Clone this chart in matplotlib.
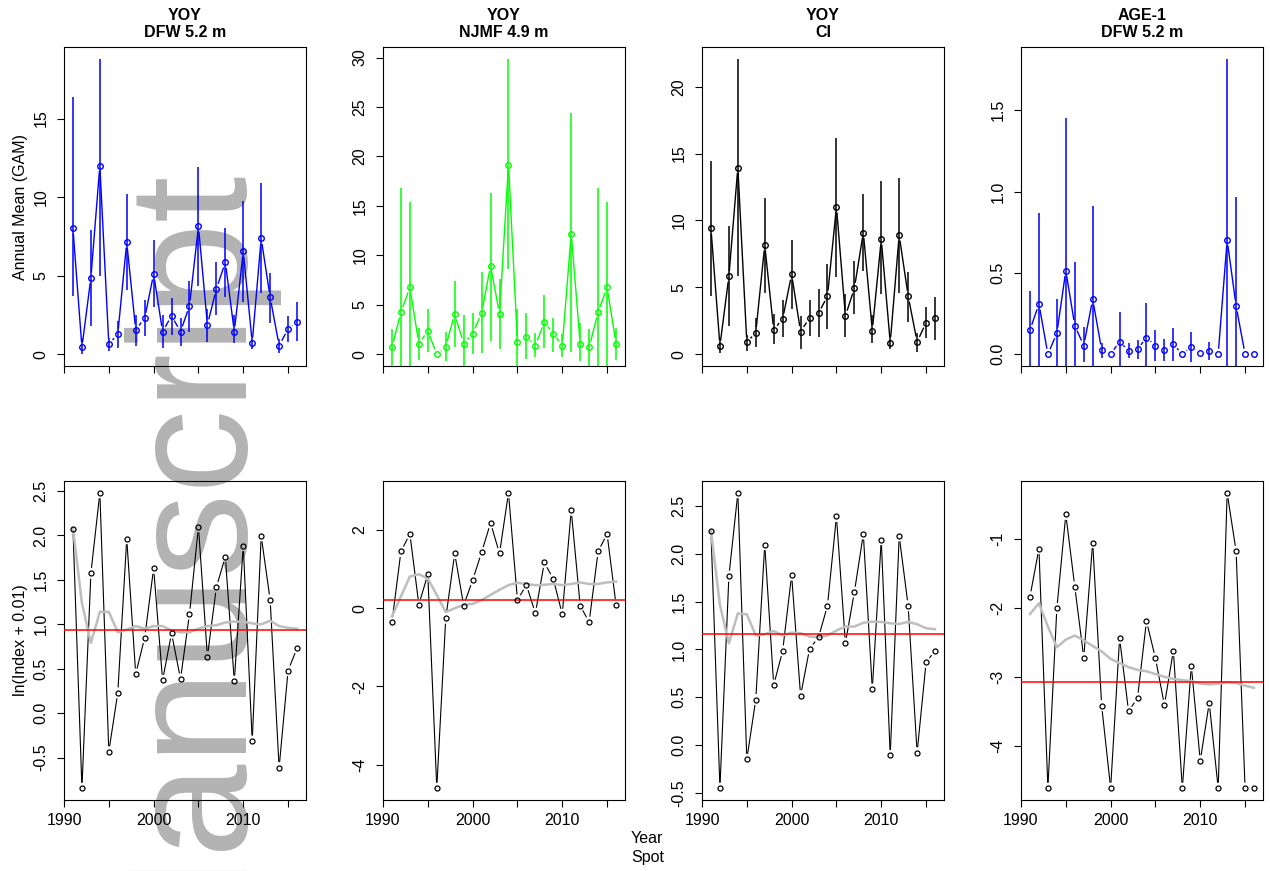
import numpy as np
import matplotlib
matplotlib.use('Agg')
import matplotlib.pyplot as plt
from matplotlib.collections import LineCollection

plt.rcParams['font.family'] = ['Liberation Sans', 'DejaVu Sans']
plt.rcParams['axes.unicode_minus'] = False

years = np.arange(1991, 2017)

# ---- top row: annual mean (GAM) with CI ----
dfw_mean = [8.0, 0.43, 4.87, 12.0, 0.64, 1.27, 7.12, 1.55, 2.29, 5.1, 1.44, 2.44, 1.44,
            3.07, 8.14, 1.88, 4.15, 5.85, 1.44, 6.55, 0.74, 7.37, 3.62, 0.55, 1.61, 2.05]
dfw_lo = [3.7, 0.0, 1.8, 5.0, 0.2, 0.4, 4.1, 0.55, 1.17, 3.0, 0.38, 1.23, 0.5,
          1.44, 4.36, 0.8, 2.5, 3.67, 0.7, 3.35, 0.3, 3.88, 2.0, 0.05, 0.75, 0.85]
dfw_hi = [16.4, 1.0, 7.9, 18.8, 1.0, 2.1, 10.2, 2.5, 3.45, 7.27, 2.5, 3.6, 2.33,
          4.68, 11.93, 2.86, 5.85, 8.0, 2.5, 9.75, 1.1, 10.9, 5.15, 0.95, 2.44, 3.3]

njmf_mean = [0.7, 4.24, 6.76, 1.08, 2.35, 0.0, 0.77, 4.07, 1.08, 2.09, 4.14, 8.95, 4.07,
             19.17, 1.28, 1.78, 0.87, 3.23, 2.09, 0.87, 12.2, 1.08, 0.7, 4.24, 6.76, 1.08]
njmf_lo = [-1.5, -2.0, -2.0, -0.57, 0.2, 0.0, -0.67, 0.7, -1.5, 0.0, 0.1, 1.38, 0.5,
           8.58, -1.5, -0.47, -0.3, 0.6, 0.2, -0.3, 0.2, -0.67, -1.5, -2.0, -2.0, -0.57]
njmf_hi = [2.56, 16.85, 15.4, 2.62, 4.54, 0.0, 2.29, 7.43, 3.97, 4.14, 8.34, 16.35, 7.57,
           29.87, 4.54, 4.2, 2.12, 5.99, 3.63, 2.05, 24.39, 3.13, 2.56, 16.85, 15.4, 2.62]

ci_mean = [9.4, 0.63, 5.82, 13.96, 0.88, 1.62, 8.16, 1.82, 2.64, 5.97, 1.69, 2.71, 3.06,
           4.35, 11.02, 2.86, 4.93, 9.1, 1.77, 8.6, 0.87, 8.9, 4.35, 0.92, 2.36, 2.74]
ci_lo = [4.38, 0.07, 2.11, 5.85, 0.27, 0.5, 4.55, 0.75, 1.32, 3.38, 0.4, 1.37, 1.32,
         1.89, 5.8, 1.32, 2.99, 6.24, 0.82, 4.5, 0.37, 4.6, 2.39, 0.2, 1.19, 1.07]
ci_hi = [14.43, 1.2, 9.58, 22.09, 1.44, 2.69, 11.69, 2.99, 4.05, 8.53, 2.86, 4.05, 4.85,
         6.72, 16.19, 4.5, 6.99, 11.97, 2.94, 12.94, 1.44, 13.2, 6.17, 1.62, 3.51, 4.25]

age1_mean = [0.149, 0.309, 0.0, 0.129, 0.514, 0.176, 0.053, 0.338, 0.027, 0.0, 0.078, 0.02, 0.031,
             0.102, 0.053, 0.027, 0.061, 0.0, 0.047, 0.006, 0.02, 0.0, 0.702, 0.297, 0.0, 0.0]
age1_lo = [-0.1, -0.1, 0.0, -0.1, -0.1, -0.1, -0.05, -0.1, -0.025, 0.0, -0.1, -0.025, -0.03,
           -0.1, -0.04, -0.04, -0.04, 0.0, -0.045, 0.006, -0.035, 0.0, -0.1, -0.1, 0.0, 0.0]
age1_hi = [0.389, 0.87, 0.0, 0.34, 1.453, 0.57, 0.17, 0.913, 0.068, 0.0, 0.258, 0.068, 0.088,
           0.313, 0.149, 0.092, 0.164, 0.0, 0.139, 0.006, 0.078, 0.0, 1.817, 0.968, 0.0, 0.0]

# ---- bottom row: ln(Index + 0.01), grey running line, red overall mean ----
dfw_ln = [2.075, -0.845, 1.574, 2.48, -0.434, 0.228, 1.963, 0.441, 0.849, 1.63, 0.37, 0.9, 0.385,
          1.114, 2.097, 0.636, 1.417, 1.76, 0.36, 1.884, -0.314, 1.996, 1.275, -0.613, 0.478, 0.733]
dfw_grey = [2.08, 1.24, 0.79, 1.14, 1.14, 0.91, 0.94, 0.98, 0.95, 0.98, 0.98, 0.93, 0.91,
            0.91, 0.95, 0.98, 0.99, 1.02, 1.03, 1.03, 1.01, 1.0, 1.04, 0.98, 0.96, 0.95]
dfw_red = 0.935

njmf_ln = [-0.357, 1.45, 1.90, 0.093, 0.866, -4.6, -0.255, 1.40, 0.068, 0.72, 1.426, 2.18, 1.40,
           2.95, 0.212, 0.594, -0.127, 1.17, 0.747, -0.153, 2.504, 0.068, -0.357, 1.45, 1.90, 0.093]
njmf_grey = [-0.21, 0.3, 0.81, 0.87, 0.76, 0.34, -0.10, 0.0, 0.085, 0.11, 0.21, 0.34, 0.47,
             0.59, 0.65, 0.62, 0.59, 0.6, 0.62, 0.59, 0.62, 0.66, 0.62, 0.62, 0.66, 0.68]
njmf_red = 0.22

ci_ln = [2.24, -0.451, 1.767, 2.639, -0.149, 0.476, 2.097, 0.628, 0.986, 1.778, 0.517, 1.007, 1.128,
         1.458, 2.392, 1.066, 1.60, 2.208, 0.587, 2.149, -0.108, 2.188, 1.458, -0.08, 0.865, 0.986]
ci_grey = [2.24, 1.465, 1.066, 1.378, 1.368, 1.146, 1.16, 1.194, 1.146, 1.177, 1.17, 1.135, 1.128,
           1.146, 1.198, 1.24, 1.24, 1.28, 1.29, 1.288, 1.274, 1.267, 1.288, 1.264, 1.222, 1.212]
ci_red = 1.16

age1_ln = [-1.836, -1.135, -4.62, -2.005, -0.638, -1.69, -2.72, -1.048, -3.42, -4.62, -2.44, -3.50, -3.31,
           -2.19, -2.73, -3.41, -2.62, -4.62, -2.84, -4.22, -3.38, -4.62, -0.324, -1.174, -4.62, -4.62]
age1_grey = [-2.087, -1.93, -2.27, -2.57, -2.46, -2.40, -2.47, -2.55, -2.63, -2.74, -2.80, -2.86, -2.90,
             -2.92, -2.96, -3.0, -3.03, -3.05, -3.06, -3.10, -3.11, -3.10, -3.08, -3.09, -3.13, -3.16]
age1_red = -3.08

titles = [('YOY', 'DFW 5.2 m'), ('YOY', 'NJMF 4.9 m'), ('YOY', 'CI'), ('AGE-1', 'DFW 5.2 m')]
top_series = [(dfw_mean, dfw_lo, dfw_hi, '#0000ff'),
              (njmf_mean, njmf_lo, njmf_hi, '#00ff00'),
              (ci_mean, ci_lo, ci_hi, 'black'),
              (age1_mean, age1_lo, age1_hi, '#0000ff')]
bottom_series = [(dfw_ln, dfw_grey, dfw_red), (njmf_ln, njmf_grey, njmf_red),
                 (ci_ln, ci_grey, ci_red), (age1_ln, age1_grey, age1_red)]
top_ticks = [([0, 5, 10, 15], '%d'), ([0, 5, 10, 15, 20, 25, 30], '%d'),
             ([0, 5, 10, 15, 20], '%d'), ([0, 0.5, 1.0, 1.5], '%.1f')]
bottom_ticks = [([-0.5, 0, 0.5, 1.0, 1.5, 2.0, 2.5], '%.1f'), ([-4, -2, 0, 2], '%d'),
                ([-0.5, 0, 0.5, 1.0, 1.5, 2.0, 2.5], '%.1f'), ([-4, -3, -2, -1], '%d')]

W, H = 1270, 871
FS = 11.5
fig = plt.figure(figsize=(W / 100, H / 100), dpi=100)
fig.patch.set_facecolor('white')

# watermark behind the panels
fig.text(233 / W, (H - 983) / H, 'Manuscript', rotation=90, rotation_mode='anchor',
         ha='left', va='baseline', fontsize=121, color='#b3b3b3', zorder=-5)

lefts = [64, 383, 702, 1021]
tops = [47, 481]
pw, ph = 242, 319


def rect(left, top):
    return [left / W, 1 - (top + ph) / H, pw / W, ph / H]


def gapped_line(ax, x, y, color, lw, gap=5.5):
    # like R type="b": line pieces stop short of each point
    pts = ax.transData.transform(np.column_stack([x, y]))
    inv = ax.transData.inverted()
    segs = []
    for p0, p1 in zip(pts[:-1], pts[1:]):
        d = p1 - p0
        L = np.hypot(d[0], d[1])
        if L <= 2 * gap:
            continue
        u = d / L
        segs.append(inv.transform(np.array([p0 + gap * u, p1 - gap * u])))
    ax.add_collection(LineCollection(segs, colors=color, linewidths=lw, zorder=2),
                      autolim=False)


def style(ax, ticks, fmt, xlabels):
    ax.patch.set_visible(False)
    ax.set_xlim(1990, 2017)
    ax.set_xticks([1990, 1995, 2000, 2005, 2010, 2015])
    ax.set_xticklabels(['1990', '', '2000', '', '2010', ''] if xlabels else [])
    ax.set_yticks(ticks)
    ax.set_yticklabels([fmt % t for t in ticks], rotation=90, va='center')
    ax.tick_params(axis='both', direction='out', length=5, width=0.8, labelsize=FS)
    ax.tick_params(axis='y', pad=6)
    ax.tick_params(axis='x', pad=4.3)
    for s in ax.spines.values():
        s.set_linewidth(0.8)


for i in range(4):
    mean, lo, hi, col = top_series[i]
    ax = fig.add_axes(rect(lefts[i], tops[0]))
    style(ax, top_ticks[i][0], top_ticks[i][1], False)
    top = max(hi)
    ax.set_ylim(-0.04 * top, top * 1.04)
    gapped_line(ax, years, mean, col, 1.0)
    ax.vlines(years, lo, hi, colors=col, linewidth=1.1, zorder=2)
    ax.plot(years, mean, 'o', mfc='none', mec=col, ms=4, mew=1.0, zorder=3)
    ax.text(0.5, 1.1003, titles[i][0], transform=ax.transAxes, ha='center', va='center',
            fontsize=FS, fontweight='bold')
    ax.text(0.5, 1.0439, titles[i][1], transform=ax.transAxes, ha='center', va='center',
            fontsize=FS, fontweight='bold')

for i in range(4):
    vals, grey, red = bottom_series[i]
    ax = fig.add_axes(rect(lefts[i], tops[1]))
    style(ax, bottom_ticks[i][0], bottom_ticks[i][1], True)
    lo, hi = min(vals), max(vals)
    r = hi - lo
    ax.set_ylim(lo - 0.04 * r, hi + 0.04 * r)
    gapped_line(ax, years, vals, 'black', 0.8)
    ax.plot(years, grey, color='#bebebe', lw=1.8, zorder=2.5)
    ax.axhline(red, color='#ff0000', lw=1.1, zorder=2.6)
    ax.plot(years, vals, 'o', mfc='none', mec='black', ms=3.6, mew=0.9, zorder=3)

fig.text(21 / W, 1 - 206.5 / H, 'Annual Mean (GAM)', rotation=90, ha='center', va='center',
         fontsize=FS)
fig.text(21 / W, 1 - 640.5 / H, 'ln(Index + 0.01)', rotation=90, ha='center', va='center',
         fontsize=FS)
fig.text(647 / W, 1 - 838 / H, 'Year', ha='center', va='center', fontsize=FS)
fig.text(648 / W, 1 - 857 / H, 'Spot', ha='center', va='center', fontsize=FS)

fig.savefig('out.png', dpi=100)
